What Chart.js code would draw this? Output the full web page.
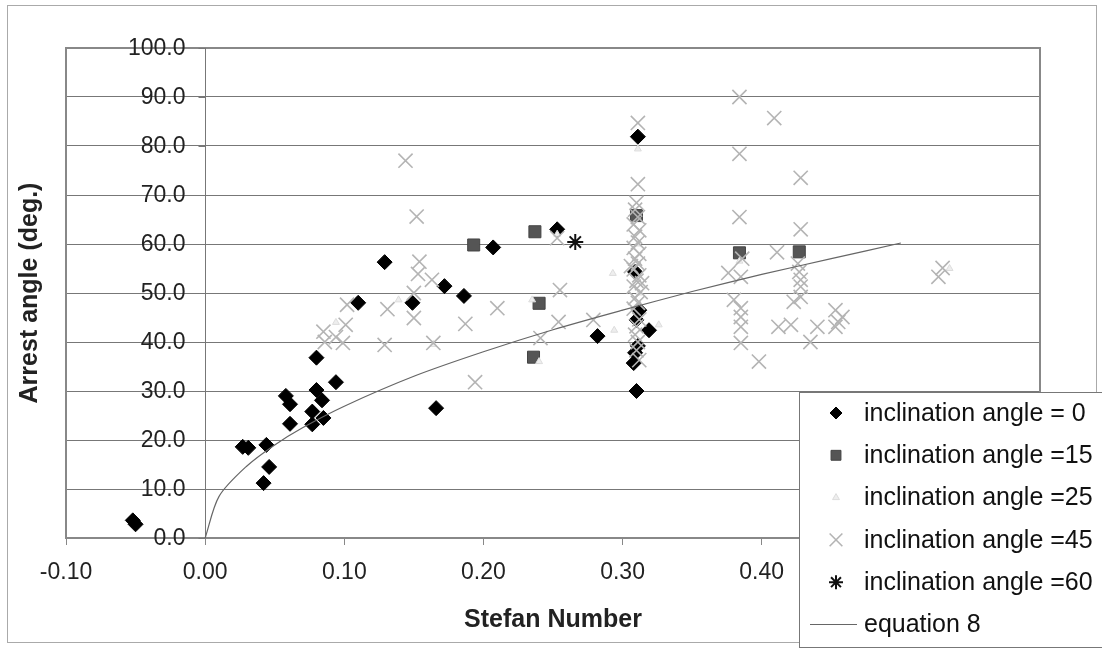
<!DOCTYPE html>
<html>
<head>
<meta charset="utf-8">
<script src="https://cdn.jsdelivr.net/npm/chart.js"></script>
<style>
  html, body { margin: 0; padding: 0; background: #fff; }
  canvas { display: block; }
</style>
</head>
<body>
<canvas id="arrestChart" width="1102" height="649"></canvas>
<script>
// Stefan number vs arrest angle
const incl0 = [
  [-0.052, 3.6], [-0.050, 2.8], [0.027, 18.6], [0.031, 18.4], [0.044, 19.0], [0.042, 11.2],
  [0.046, 14.5], [0.058, 29.0], [0.061, 27.3], [0.061, 23.3], [0.077, 25.8], [0.077, 23.2],
  [0.080, 36.8], [0.080, 30.2], [0.084, 28.1], [0.085, 24.5], [0.094, 31.8], [0.110, 48.0],
  [0.129, 56.3], [0.149, 48.0], [0.166, 26.5], [0.172, 51.4], [0.186, 49.4], [0.207, 59.3],
  [0.253, 63.0], [0.282, 41.2], [0.311, 81.9], [0.309, 54.3], [0.310, 44.5], [0.312, 46.5],
  [0.319, 42.4], [0.311, 39.2], [0.309, 37.8], [0.308, 35.7], [0.310, 30.0]
];
const incl15 = [
  [0.193, 59.8], [0.237, 62.5], [0.240, 47.9], [0.236, 36.9], [0.384, 58.2], [0.427, 58.4], [0.310, 65.8]
];
const incl25 = [
  [0.311, 79.4], [0.094, 44.0], [0.139, 48.6], [0.164, 39.5], [0.235, 48.6], [0.293, 54.0],
  [0.294, 42.4], [0.326, 43.5], [0.384, 56.5], [0.240, 36.0], [0.253, 62.0], [0.535, 55.0],
  [0.311, 60.0], [0.312, 50.0]
];
const incl45 = [
  [0.144, 77.0], [0.152, 65.6], [0.154, 56.4], [0.153, 53.9], [0.163, 52.7], [0.150, 50.0],
  [0.102, 47.6], [0.131, 46.7], [0.150, 44.9], [0.187, 43.7], [0.101, 43.5], [0.085, 42.1],
  [0.094, 41.0], [0.099, 39.8], [0.086, 40.0], [0.129, 39.4], [0.164, 39.8], [0.194, 31.8],
  [0.253, 61.2], [0.255, 50.6], [0.210, 46.9], [0.254, 44.1], [0.279, 44.5], [0.241, 40.8],
  [0.311, 84.7], [0.311, 72.2], [0.310, 68.4], [0.309, 67.0], [0.311, 65.5], [0.308, 64.0],
  [0.312, 62.8], [0.309, 61.5], [0.311, 60.3], [0.308, 59.2], [0.312, 58.0], [0.309, 57.0],
  [0.311, 56.0], [0.308, 54.8], [0.312, 53.6], [0.310, 52.5], [0.308, 51.3], [0.313, 50.2],
  [0.309, 49.0], [0.311, 48.0], [0.308, 46.8], [0.312, 44.6], [0.310, 43.2], [0.309, 41.5],
  [0.311, 40.0], [0.310, 38.3], [0.312, 36.3], [0.314, 52.0], [0.306, 55.5],
  [0.384, 90.0], [0.409, 85.7], [0.384, 78.4], [0.428, 73.5], [0.384, 65.5], [0.428, 63.0],
  [0.411, 58.3], [0.376, 54.1], [0.385, 53.3], [0.427, 54.3], [0.428, 52.7], [0.428, 51.3],
  [0.380, 48.6], [0.423, 48.2], [0.428, 49.2], [0.385, 46.9], [0.385, 45.1], [0.385, 43.1],
  [0.385, 39.8], [0.398, 36.0], [0.412, 43.1], [0.421, 43.5], [0.440, 43.1], [0.435, 40.0],
  [0.453, 46.5], [0.455, 44.1], [0.453, 43.1], [0.458, 45.1], [0.530, 55.1], [0.527, 53.3],
  [0.426, 56.0], [0.386, 57.0]
];
const incl60 = [[0.266, 60.4]];
const equation8 = [
  [0, 0], [0.01, 8.5], [0.03, 14.7], [0.05, 19.0], [0.07, 22.5], [0.10, 26.9], [0.15, 33.0],
  [0.20, 38.0], [0.25, 42.5], [0.30, 46.5], [0.35, 50.3], [0.40, 53.8], [0.45, 57.0], [0.50, 60.2]
];
const seriesNames = ['inclination angle = 0', 'inclination angle =15', 'inclination angle =25',
  'inclination angle =45', 'inclination angle =60', 'equation 8'];

const FONT = '"Liberation Sans", Arial, sans-serif';
const pts = arr => arr.map(p => ({ x: p[0], y: p[1] }));

const paper = {
  id: 'paper',
  beforeDraw(chart) {
    const ctx = chart.ctx;
    ctx.save();
    ctx.fillStyle = '#fff';
    ctx.fillRect(0, 0, chart.width, chart.height);
    ctx.strokeStyle = '#aaa';
    ctx.lineWidth = 1;
    ctx.strokeRect(7.5, 5.5, 1089, 637);
    ctx.restore();
  },
  beforeDatasetsDraw(chart) {
    const ctx = chart.ctx, a = chart.chartArea;
    const xs = chart.scales.x, ys = chart.scales.y;
    const x0 = Math.round(xs.getPixelForValue(0)) + 0.5;
    ctx.save();
    // plot frame
    ctx.strokeStyle = '#888';
    ctx.lineWidth = 2;
    ctx.strokeRect(a.left, a.top, a.right - a.left, a.bottom - a.top);
    // y axis standing at Stefan number 0
    ctx.strokeStyle = '#777';
    ctx.lineWidth = 1;
    ctx.beginPath();
    ctx.moveTo(x0, a.top);
    ctx.lineTo(x0, a.bottom);
    ys.ticks.forEach(t => {
      const y = Math.round(ys.getPixelForValue(t.value)) + 0.5;
      ctx.moveTo(x0 - 7, y);
      ctx.lineTo(x0, y);
    });
    ctx.stroke();
    ctx.fillStyle = '#222';
    ctx.font = '23px ' + FONT;
    ctx.textAlign = 'right';
    ctx.textBaseline = 'middle';
    ys.ticks.forEach(t => {
      ctx.fillText(t.value.toFixed(1), x0 - 20, ys.getPixelForValue(t.value) + 1);
    });
    // y title
    ctx.translate(30, (a.top + a.bottom) / 2);
    ctx.rotate(-Math.PI / 2);
    ctx.textAlign = 'center';
    ctx.font = 'bold 25px ' + FONT;
    ctx.fillText('Arrest angle (deg.)', 0, 0);
    ctx.restore();
  },
  afterDraw(chart) {
    const ctx = chart.ctx;
    ctx.save();
    ctx.fillStyle = '#fff';
    ctx.strokeStyle = '#777';
    ctx.lineWidth = 1;
    ctx.fillRect(799, 392, 320, 256);
    ctx.strokeRect(799.5, 392.5, 320, 255);
    ctx.font = '25px ' + FONT;
    ctx.textAlign = 'left';
    ctx.textBaseline = 'middle';
    chart.data.datasets.forEach((ds, i) => {
      const y = 413 + i * 42.3;
      if (ds.showLine) {
        ctx.strokeStyle = ds.borderColor;
        ctx.lineWidth = 1.2;
        ctx.beginPath();
        ctx.moveTo(810, y);
        ctx.lineTo(857, y);
        ctx.stroke();
      } else {
        ctx.fillStyle = ds.pointBackgroundColor;
        ctx.strokeStyle = ds.pointBorderColor;
        ctx.lineWidth = ds.pointBorderWidth;
        Chart.helpers.drawPoint(ctx, {
          pointStyle: ds.pointStyle, radius: ds.legendRadius, rotation: 0, borderWidth: ds.pointBorderWidth
        }, 836, y);
      }
      ctx.fillStyle = '#111';
      ctx.fillText(seriesNames[i], 864, y + 1);
    });
    ctx.restore();
  }
};

new Chart(document.getElementById('arrestChart'), {
  type: 'scatter',
  data: {
    datasets: [
      { data: pts(incl0), pointStyle: 'rectRot', pointRadius: 7.5, legendRadius: 6,
        pointBackgroundColor: '#000', pointBorderColor: '#000', pointBorderWidth: 1, order: 5 },
      { data: pts(incl15), pointStyle: 'rect', pointRadius: 8.5, legendRadius: 7,
        pointBackgroundColor: '#555', pointBorderColor: '#444', pointBorderWidth: 1, order: 4 },
      { data: pts(incl25), pointStyle: 'triangle', pointRadius: 4, legendRadius: 4,
        pointBackgroundColor: '#eee', pointBorderColor: '#ddd', pointBorderWidth: 1, order: 3 },
      { data: pts(incl45), pointStyle: 'crossRot', pointRadius: 10, legendRadius: 9,
        pointBackgroundColor: '#b4b4b4', pointBorderColor: '#b4b4b4', pointBorderWidth: 1.6, order: 2 },
      { data: pts(incl60), pointStyle: 'star', pointRadius: 8, legendRadius: 7,
        pointBackgroundColor: '#111', pointBorderColor: '#111', pointBorderWidth: 2, order: 1 },
      { data: pts(equation8), showLine: true, pointRadius: 0, borderColor: '#666', borderWidth: 1.2,
        tension: 0.3, order: 0 }
    ]
  },
  options: {
    responsive: false,
    animation: false,
    events: [],
    layout: { padding: { top: 48, right: 62, left: 0, bottom: 0 } },
    plugins: { legend: { display: false }, tooltip: { enabled: false } },
    scales: {
      x: {
        type: 'linear', min: -0.1, max: 0.6,
        afterFit: s => { s.height = 111; },
        border: { display: true, color: '#555', width: 2 },
        grid: { drawOnChartArea: false, drawTicks: true, tickLength: 7, color: '#888' },
        ticks: {
          stepSize: 0.1, autoSkip: false, maxRotation: 0, padding: 14, color: '#222',
          font: { family: FONT, size: 23 },
          callback: v => (Math.abs(v) < 1e-9 ? 0 : v).toFixed(2)
        },
        title: {
          display: true, text: 'Stefan Number', color: '#222',
          font: { family: FONT, size: 25, weight: 'bold' }, padding: { top: 0, bottom: 14 }
        }
      },
      y: {
        type: 'linear', min: 0, max: 100,
        afterFit: s => { s.width = 66; },
        border: { display: false },
        grid: { color: '#777', lineWidth: 1, drawTicks: false },
        ticks: { stepSize: 10, display: false }
      }
    }
  },
  plugins: [paper]
});
</script>
</body>
</html>
